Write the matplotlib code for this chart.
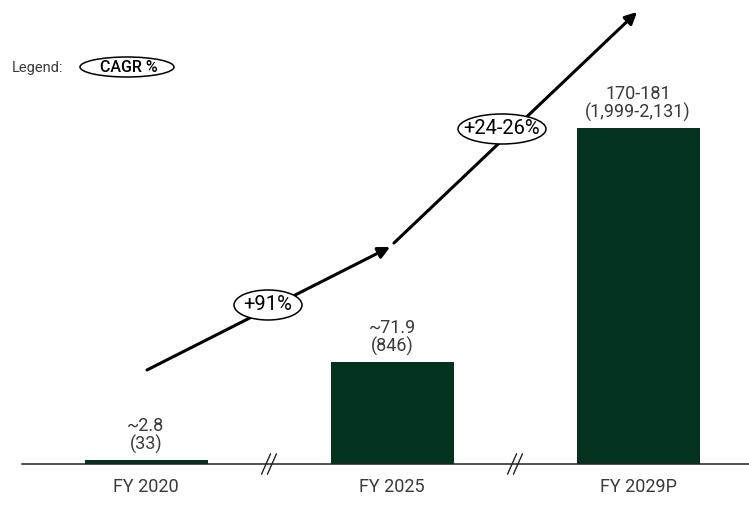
import matplotlib
matplotlib.use("Agg")
import matplotlib.pyplot as plt
from matplotlib.patches import Ellipse, FancyArrowPatch

categories = ["FY 2020", "FY 2025", "FY 2029P"]
value_labels = ["~2.8\n(33)", "~71.9\n(846)", "170-181\n(1,999-2,131)"]
# drawn bar heights (chart is not to scale; broken axis)
bar_heights = [4, 102, 336]
cagr_labels = ["+91%", "+24-26%"]

BAR = "#03331f"
TXT = "#3a3a3a"
plt.rcParams['font.family'] = ['Roboto', 'DejaVu Sans']

fig = plt.figure(figsize=(7.49, 5.24), dpi=100)
ax = fig.add_axes([0, 0, 1, 1])
ax.set_xlim(-146/246, (749-146)/246)
ax.set_ylim(-60, 464)
ax.axis("off")

x = list(range(len(categories)))
ax.bar(x, bar_heights, width=0.5, color=BAR, zorder=2)
ax.plot([(22-146)/246, (749-146)/246], [0, 0], color="#222222", lw=1.1, zorder=3)

for xi, h, lab, cat in zip(x, bar_heights, value_labels, categories):
    ax.text(xi, h + 6, lab, ha="center", va="bottom", fontsize=13, color=TXT,
            linespacing=1.0)
    ax.text(xi, -14, cat, ha="center", va="top", fontsize=13, color=TXT)

# break marks
for bx in [0.5, 1.5]:
    for dx in [-0.012, 0.012]:
        ax.plot([bx + dx - 0.018, bx + dx + 0.018], [-10, 10], color="#222222",
                lw=1.0, zorder=4)

# CAGR arrows
arrows = [((0.004, 94), (0.992, 217)), ((1.008, 221), (1.996, 452))]
for (p0, p1) in arrows:
    a = FancyArrowPatch(p0, p1, arrowstyle="-|>,head_length=7,head_width=3.5",
                        mutation_scale=1, color="black", lw=2.2, zorder=5,
                        shrinkA=0, shrinkB=0)
    ax.add_patch(a)

ell_pos = [((268-146)/246, 464-305, 68/246, 30), ((502-146)/246, 464-129, 88/246, 30)]
for (ex, ey, ew, eh), lab in zip(ell_pos, cagr_labels):
    ax.add_patch(Ellipse((ex, ey), ew, eh, facecolor="white", edgecolor="black",
                         lw=1.1, zorder=6))
    ax.text(ex, ey, lab, ha="center", va="center", fontsize=14.5, color="black",
            fontweight="normal", zorder=7)

# legend
ax.text((12-146)/246, 464-68, "Legend:", ha="left", va="center", fontsize=10.5,
        color=TXT)
ax.add_patch(Ellipse(((127-146)/246, 464-67), 94/246, 20, facecolor="white",
                     edgecolor="black", lw=1.1, zorder=6))
ax.text((129-146)/246, 464-67, "CAGR %", ha="center", va="center", fontsize=11.5,
        fontweight="medium", color="black", zorder=7)

fig.savefig("out.png", dpi=100)
